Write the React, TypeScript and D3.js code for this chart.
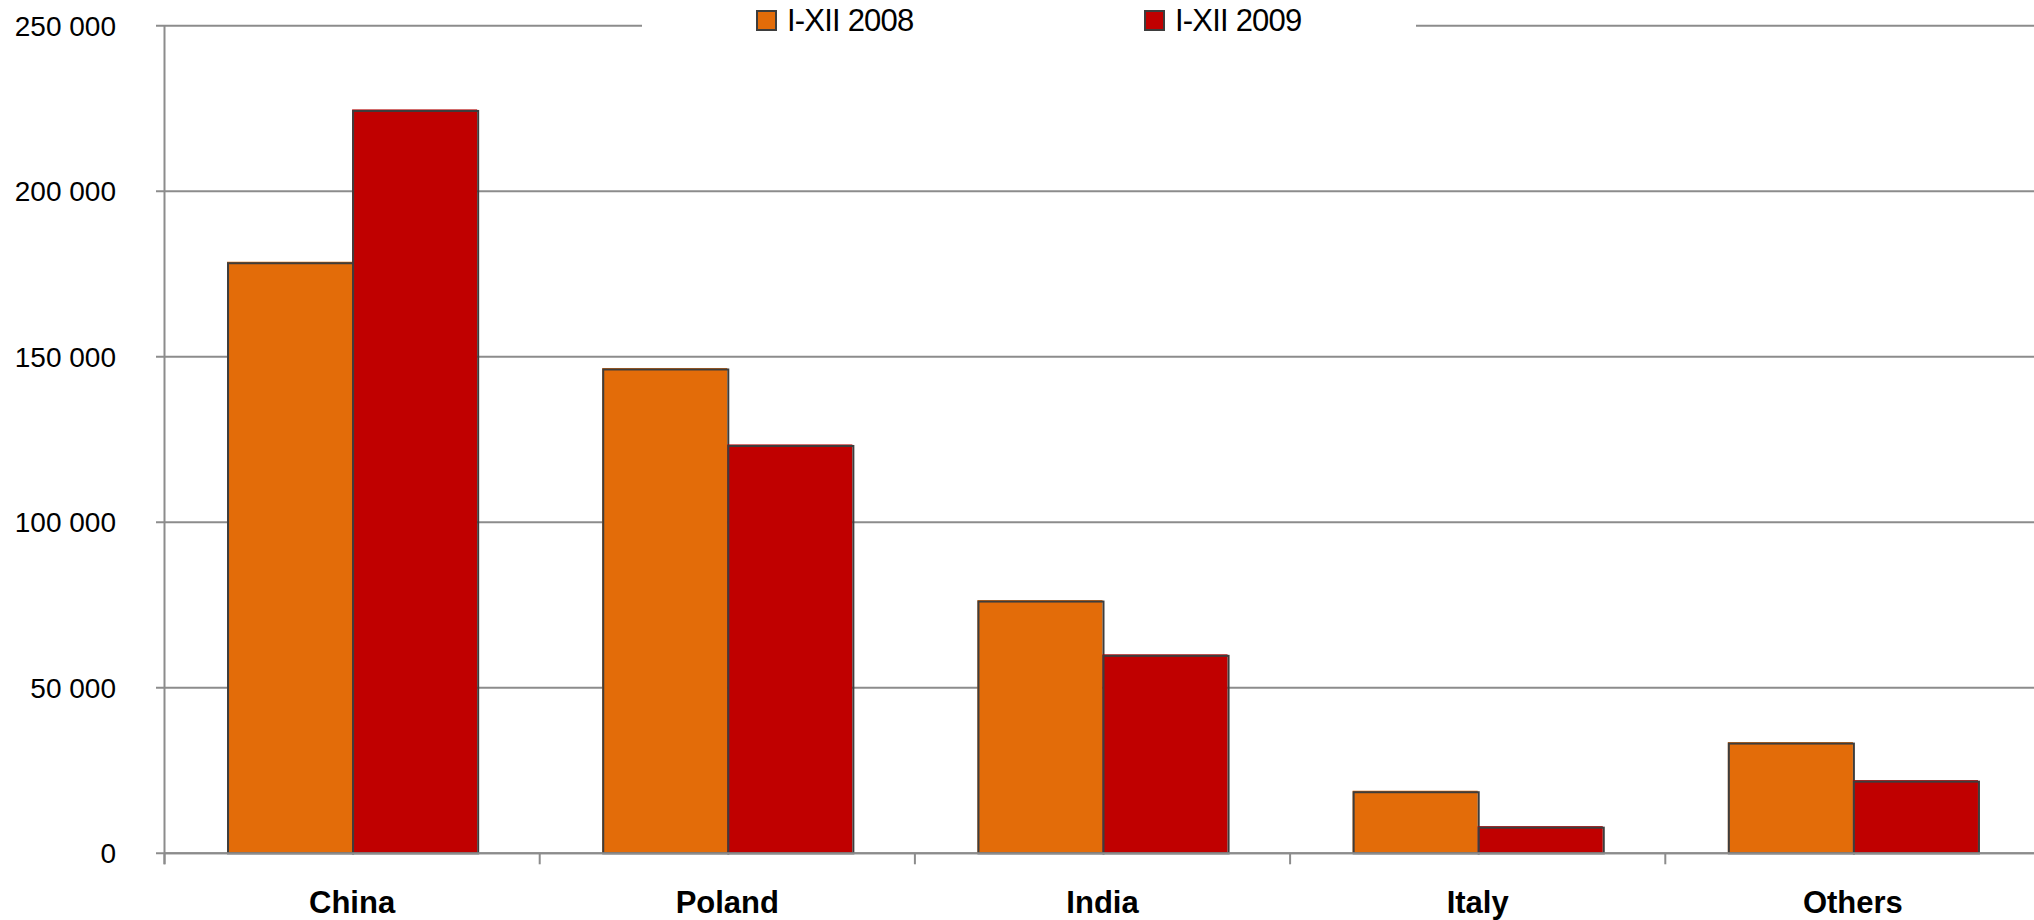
import React from "react";
import * as d3 from "d3";

// Import volumes by country of origin
const categories = ["China", "Poland", "India", "Italy", "Others"];
const seriesNames = ["I-XII 2008", "I-XII 2009"];
const values2008 = [178400, 146300, 76200, 18600, 33300];
const values2009 = [224400, 123200, 59800, 7900, 21800];
const seriesColors = ["#E36C09", "#C00000"];
const yTicks = [0, 50000, 100000, 150000, 200000, 250000];

const W = 2034;
const H = 920;
const FONT = "'Liberation Sans', Arial, sans-serif";

export default function App() {
  const plotLeft = 164.5;
  const bandW = 375.2;
  const x = d3
    .scaleBand<string>()
    .domain(categories)
    .range([plotLeft, plotLeft + bandW * categories.length])
    .paddingInner(0)
    .paddingOuter(0);
  const y = d3.scaleLinear().domain([0, 250000]).range([853.3, 25.7]);
  const inner = d3
    .scaleBand<string>()
    .domain(seriesNames)
    .range([x.bandwidth() / 6, (x.bandwidth() * 5) / 6])
    .padding(0);

  const fmt = (v: number) => d3.format(",")(v).replace(/,/g, " ");
  const series = [values2008, values2009];

  const bars: any[] = [];
  categories.forEach((c, ci) => {
    series.forEach((vals, si) => {
      const x0 = (x(c) as number) + (inner(seriesNames[si]) as number);
      const w = inner.bandwidth();
      const yTop = y(vals[ci]);
      const h = y(0) - yTop;
      bars.push(
        <g key={`${c}-${si}`}>
          <rect x={x0} y={yTop - 1} width={w} height={h + 1} fill={seriesColors[si]} />
          <rect
            x={x0 + 1}
            y={yTop + 0.5}
            width={w}
            height={h - 0.5}
            fill="none"
            stroke="#3d3d3d"
            strokeWidth={2}
          />
        </g>
      );
    });
  });

  const tickBounds = categories.map((c) => x(c) as number);

  return (
    <svg
      width={W}
      height={H}
      style={{ position: "absolute", left: 0, top: 0, background: "#fff" }}
      fontFamily={FONT}
    >
      <rect x={0} y={0} width={W} height={H} fill="#fff" />
      {/* horizontal gridlines */}
      {yTicks.map((t) => (
        <line
          key={`g${t}`}
          x1={156}
          x2={W}
          y1={y(t)}
          y2={y(t)}
          stroke="#8c8c8c"
          strokeWidth={2}
        />
      ))}
      {/* y-axis line */}
      <line x1={plotLeft} x2={plotLeft} y1={y(250000)} y2={y(0) + 11} stroke="#8c8c8c" strokeWidth={2} />
      {/* category separators */}
      {tickBounds.map((tx, i) => (
        <line key={`t${i}`} x1={tx} x2={tx} y1={y(0)} y2={y(0) + 11} stroke="#8c8c8c" strokeWidth={2} />
      ))}
      {/* y-axis labels */}
      {yTicks.map((t) => (
        <text
          key={`l${t}`}
          x={116}
          y={y(t) + 10}
          textAnchor="end"
          fontSize={28}
          fill="#000"
        >
          {fmt(t)}
        </text>
      ))}
      {bars}
      {/* baseline drawn over bar bottoms */}
      <line x1={plotLeft} x2={W} y1={y(0)} y2={y(0)} stroke="#8c8c8c" strokeWidth={2} />
      {/* category labels */}
      {categories.map((c) => (
        <text
          key={`c${c}`}
          x={(x(c) as number) + x.bandwidth() / 2}
          y={913}
          textAnchor="middle"
          fontSize={31}
          fontWeight="bold"
          fill="#000"
        >
          {c}
        </text>
      ))}
      {/* legend */}
      <rect x={642} y={0} width={774} height={44} fill="#fff" />
      {seriesNames.map((s, i) => (
        <g key={`lg${s}`} transform={`translate(${757 + i * 388},0)`}>
          <rect x={0} y={11} width={19} height={19} fill={seriesColors[i]} stroke="#3d3d3d" strokeWidth={2} />
          <text x={30} y={31} fontSize={31} fill="#000" letterSpacing={-0.8}>
            {s}
          </text>
        </g>
      ))}
    </svg>
  );
}
